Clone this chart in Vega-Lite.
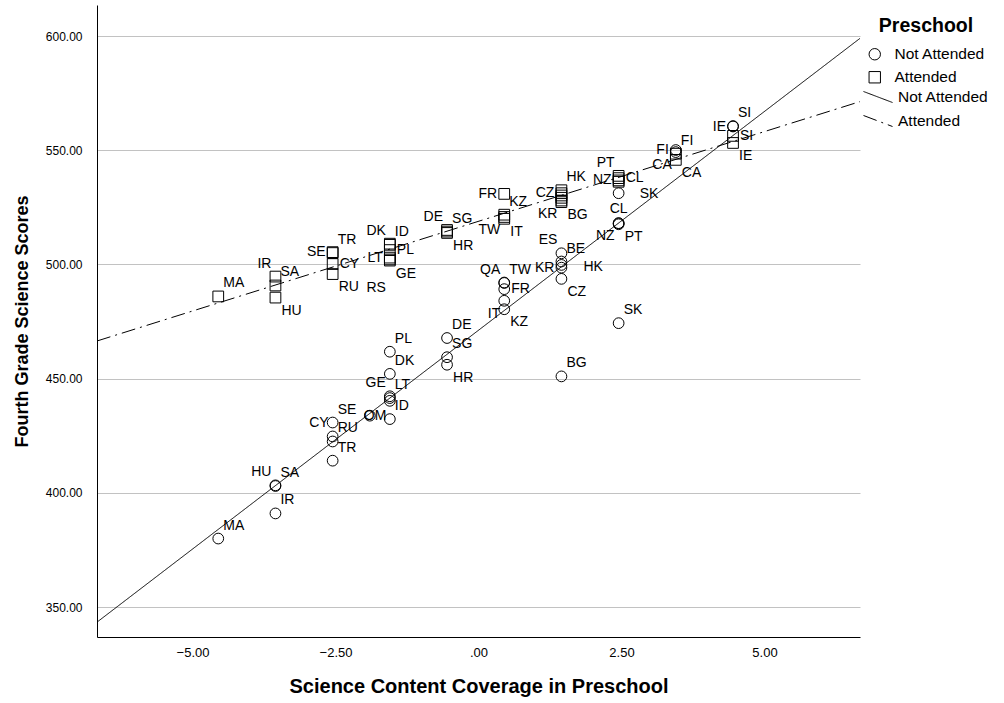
{
  "$schema": "https://vega.github.io/schema/vega-lite/v6.json",
  "width": 763,
  "height": 632,
  "autosize": {"type": "none"},
  "padding": {"left": 97, "top": 5, "right": 144, "bottom": 66},
  "background": "white",
  "config": {
    "view": {"stroke": null},
    "font": "Liberation Sans",
    "axis": {
      "domainColor": "black",
      "domainWidth": 1,
      "ticks": false,
      "labelFont": "Liberation Sans",
      "labelColor": "black",
      "titleFont": "Liberation Sans",
      "titleFontWeight": "bold",
      "titleColor": "black"
    },
    "legend": {
      "labelFont": "Liberation Sans",
      "titleFont": "Liberation Sans",
      "labelColor": "black",
      "titleColor": "black"
    }
  },
  "datasets": {
    "points": [
      {"Country": "MA", "Preschool": "Attended", "x": -4.55, "y": 486.0},
      {"Country": "IR", "Preschool": "Attended", "x": -3.55, "y": 494.7},
      {"Country": "SA", "Preschool": "Attended", "x": -3.55, "y": 490.8},
      {"Country": "HU", "Preschool": "Attended", "x": -3.55, "y": 485.5},
      {"Country": "SE", "Preschool": "Attended", "x": -2.55, "y": 505.4},
      {"Country": "TR", "Preschool": "Attended", "x": -2.55, "y": 505.0},
      {"Country": "CY", "Preschool": "Attended", "x": -2.55, "y": 500.2},
      {"Country": "RU", "Preschool": "Attended", "x": -2.55, "y": 495.8},
      {"Country": "DK", "Preschool": "Attended", "x": -1.55, "y": 509.1},
      {"Country": "ID", "Preschool": "Attended", "x": -1.55, "y": 508.6},
      {"Country": "PL", "Preschool": "Attended", "x": -1.55, "y": 506.3},
      {"Country": "LT", "Preschool": "Attended", "x": -1.55, "y": 503.0},
      {"Country": "GE", "Preschool": "Attended", "x": -1.55, "y": 501.7},
      {"Country": "RS", "Preschool": "Attended", "x": -1.55, "y": 502.2},
      {"Country": "DE", "Preschool": "Attended", "x": -0.55, "y": 515.1},
      {"Country": "SG", "Preschool": "Attended", "x": -0.55, "y": 514.4},
      {"Country": "HR", "Preschool": "Attended", "x": -0.55, "y": 513.8},
      {"Country": "FR", "Preschool": "Attended", "x": 0.45, "y": 530.9},
      {"Country": "KZ", "Preschool": "Attended", "x": 0.45, "y": 521.8},
      {"Country": "TW", "Preschool": "Attended", "x": 0.45, "y": 520.8},
      {"Country": "IT", "Preschool": "Attended", "x": 0.45, "y": 520.0},
      {"Country": "HK", "Preschool": "Attended", "x": 1.45, "y": 532.5},
      {"Country": "CZ", "Preschool": "Attended", "x": 1.45, "y": 531.2},
      {"Country": "ES", "Preschool": "Attended", "x": 1.45, "y": 530.2},
      {"Country": "BE", "Preschool": "Attended", "x": 1.45, "y": 529.2},
      {"Country": "KR", "Preschool": "Attended", "x": 1.45, "y": 528.0},
      {"Country": "BG", "Preschool": "Attended", "x": 1.45, "y": 527.3},
      {"Country": "PT", "Preschool": "Attended", "x": 2.45, "y": 538.8},
      {"Country": "CL", "Preschool": "Attended", "x": 2.45, "y": 537.8},
      {"Country": "NZ", "Preschool": "Attended", "x": 2.45, "y": 536.8},
      {"Country": "SK", "Preschool": "Attended", "x": 2.45, "y": 536.2},
      {"Country": "FI", "Preschool": "Attended", "x": 3.45, "y": 548.5},
      {"Country": "CA", "Preschool": "Attended", "x": 3.45, "y": 545.8},
      {"Country": "SI", "Preschool": "Attended", "x": 4.45, "y": 556.3},
      {"Country": "IE", "Preschool": "Attended", "x": 4.45, "y": 553.2},
      {"Country": "MA", "Preschool": "Not Attended", "x": -4.55, "y": 380.0},
      {"Country": "IR", "Preschool": "Not Attended", "x": -3.55, "y": 391.0},
      {"Country": "HU", "Preschool": "Not Attended", "x": -3.55, "y": 403.3},
      {"Country": "SA", "Preschool": "Not Attended", "x": -3.55, "y": 403.0},
      {"Country": "SE", "Preschool": "Not Attended", "x": -2.55, "y": 430.8},
      {"Country": "CY", "Preschool": "Not Attended", "x": -2.55, "y": 424.7},
      {"Country": "RU", "Preschool": "Not Attended", "x": -2.55, "y": 422.5},
      {"Country": "TR", "Preschool": "Not Attended", "x": -2.55, "y": 414.1},
      {"Country": "OM", "Preschool": "Not Attended", "x": -1.9, "y": 433.8},
      {"Country": "PL", "Preschool": "Not Attended", "x": -1.55, "y": 461.8},
      {"Country": "DK", "Preschool": "Not Attended", "x": -1.55, "y": 452.1},
      {"Country": "GE", "Preschool": "Not Attended", "x": -1.55, "y": 442.3},
      {"Country": "LT", "Preschool": "Not Attended", "x": -1.55, "y": 441.5},
      {"Country": "RS", "Preschool": "Not Attended", "x": -1.55, "y": 440.3},
      {"Country": "ID", "Preschool": "Not Attended", "x": -1.55, "y": 432.3},
      {"Country": "DE", "Preschool": "Not Attended", "x": -0.55, "y": 467.8},
      {"Country": "SG", "Preschool": "Not Attended", "x": -0.55, "y": 459.4},
      {"Country": "HR", "Preschool": "Not Attended", "x": -0.55, "y": 456.1},
      {"Country": "QA", "Preschool": "Not Attended", "x": 0.45, "y": 492.1},
      {"Country": "TW", "Preschool": "Not Attended", "x": 0.45, "y": 491.9},
      {"Country": "FR", "Preschool": "Not Attended", "x": 0.45, "y": 489.2},
      {"Country": "IT", "Preschool": "Not Attended", "x": 0.45, "y": 484.1},
      {"Country": "KZ", "Preschool": "Not Attended", "x": 0.45, "y": 480.4},
      {"Country": "ES", "Preschool": "Not Attended", "x": 1.45, "y": 504.9},
      {"Country": "BE", "Preschool": "Not Attended", "x": 1.45, "y": 501.3},
      {"Country": "HK", "Preschool": "Not Attended", "x": 1.45, "y": 499.8},
      {"Country": "KR", "Preschool": "Not Attended", "x": 1.45, "y": 498.6},
      {"Country": "CZ", "Preschool": "Not Attended", "x": 1.45, "y": 493.7},
      {"Country": "BG", "Preschool": "Not Attended", "x": 1.45, "y": 451.0},
      {"Country": "CL", "Preschool": "Not Attended", "x": 2.45, "y": 518.1},
      {"Country": "NZ", "Preschool": "Not Attended", "x": 2.45, "y": 518.0},
      {"Country": "PT", "Preschool": "Not Attended", "x": 2.45, "y": 517.6},
      {"Country": "SK", "Preschool": "Not Attended", "x": 2.45, "y": 474.3},
      {"Country": null, "Preschool": "Not Attended", "x": 2.45, "y": 531.2},
      {"Country": "FI", "Preschool": "Not Attended", "x": 3.45, "y": 550.1},
      {"Country": "CA", "Preschool": "Not Attended", "x": 3.45, "y": 549.2},
      {"Country": "SI", "Preschool": "Not Attended", "x": 4.45, "y": 560.6},
      {"Country": "IE", "Preschool": "Not Attended", "x": 4.45, "y": 560.4}
    ],
    "fits": [
      {"Fit": "Not Attended fit", "x": -6.67, "y": 343.4},
      {"Fit": "Not Attended fit", "x": 6.67, "y": 599.0},
      {"Fit": "Attended fit", "x": -6.67, "y": 466.5},
      {"Fit": "Attended fit", "x": 6.67, "y": 571.3}
    ]
  },
  "encoding": {
    "x": {
      "field": "x",
      "type": "quantitative",
      "scale": {"domain": [-6.67, 6.67], "nice": false, "zero": false},
      "axis": {
        "title": "Science Content Coverage in Preschool",
        "values": [-5, -2.5, 0, 2.5, 5],
        "labelExpr": "datum.value == 0 ? '.00' : format(datum.value, '.2f')",
        "grid": false,
        "labelFontSize": 13,
        "labelPadding": 9,
        "titleFontSize": 20,
        "titlePadding": 17
      }
    },
    "y": {
      "field": "y",
      "type": "quantitative",
      "scale": {"domain": [336.9, 613.6], "nice": false, "zero": false},
      "axis": {
        "title": "Fourth Grade Science Scores",
        "values": [350, 400, 450, 500, 550, 600],
        "format": ".2f",
        "grid": true,
        "gridColor": "#c2c2c2",
        "gridWidth": 1,
        "labelFontSize": 12,
        "labelPadding": 15,
        "titleFontSize": 18,
        "titlePadding": 14
      }
    }
  },
  "layer": [
    {
      "data": {"name": "fits"},
      "mark": {"type": "line", "color": "black", "strokeWidth": 1},
      "encoding": {
        "strokeDash": {
          "field": "Fit",
          "type": "nominal",
          "scale": {"domain": ["Not Attended fit", "Attended fit"], "range": [[1, 0], [14, 5, 2, 5]]},
          "legend": {
            "title": null,
            "orient": "none",
            "legendX": 766,
            "legendY": 77,
            "labelExpr": "replace(datum.label, ' fit', '')",
            "symbolType": "M -1 -0.38 L 1 0.38",
            "symbolSize": 841,
            "symbolStrokeWidth": 1,
            "symbolStrokeColor": "black",
            "labelFontSize": 15.5,
            "labelOffset": 5,
            "rowPadding": -13,
            "padding": 0
          }
        }
      }
    },
    {
      "data": {"name": "points"},
      "mark": {"type": "point", "filled": false, "color": "black", "strokeWidth": 1, "opacity": 1, "size": 115},
      "encoding": {
        "shape": {
          "field": "Preschool",
          "type": "nominal",
          "scale": {"domain": ["Not Attended", "Attended"], "range": ["circle", "square"]},
          "legend": {
            "title": "Preschool",
            "orient": "none",
            "legendX": 770,
            "legendY": 12,
            "titleFontSize": 19.5,
            "titleFontWeight": "bold",
            "titleAnchor": "middle",
            "titlePadding": 10,
            "labelFontSize": 15.5,
            "labelOffset": 12,
            "rowPadding": 6,
            "symbolSize": 130,
            "symbolStrokeWidth": 1,
            "symbolStrokeColor": "black",
            "symbolFillColor": "transparent",
            "padding": 0
          }
        }
      }
    },
    {
      "data": {"name": "points"},
      "transform": [{"filter": "indexof(['A:MA','A:SA','A:TR','A:ID','A:SG','A:KZ','A:HK','A:FI','N:MA','N:IR','N:SA','N:SE','N:RU','N:TR','N:PL','N:DK','N:LT','N:ID','N:DE','N:SG','N:TW','N:BE','N:BG','N:SK','N:SI'], (datum.Preschool == 'Attended' ? 'A:' : 'N:') + datum.Country) >= 0"}],
      "mark": {"type": "text", "align": "left", "baseline": "middle", "dx": 5, "dy": -13, "fontSize": 14, "color": "black"},
      "encoding": {"text": {"field": "Country"}}
    },
    {
      "data": {"name": "points"},
      "transform": [{"filter": "indexof(['A:IR','A:DK','A:DE','A:PT','N:HU','N:CY','N:GE','N:QA','N:ES'], (datum.Preschool == 'Attended' ? 'A:' : 'N:') + datum.Country) >= 0"}],
      "mark": {"type": "text", "align": "right", "baseline": "middle", "dx": -4, "dy": -13, "fontSize": 14, "color": "black"},
      "encoding": {"text": {"field": "Country"}}
    },
    {
      "data": {"name": "points"},
      "transform": [{"filter": "indexof(['A:SE','A:LT','A:FR','A:CZ','A:NZ','N:KR','N:FI','N:IE'], (datum.Preschool == 'Attended' ? 'A:' : 'N:') + datum.Country) >= 0"}],
      "mark": {"type": "text", "align": "right", "baseline": "middle", "dx": -7, "dy": 0, "fontSize": 14, "color": "black"},
      "encoding": {"text": {"field": "Country"}}
    },
    {
      "data": {"name": "points"},
      "transform": [{"filter": "indexof(['A:CY','A:PL','A:CL','A:SI','N:FR'], (datum.Preschool == 'Attended' ? 'A:' : 'N:') + datum.Country) >= 0"}],
      "mark": {"type": "text", "align": "left", "baseline": "middle", "dx": 7, "dy": 0, "fontSize": 14, "color": "black"},
      "encoding": {"text": {"field": "Country"}}
    },
    {
      "data": {"name": "points"},
      "transform": [{"filter": "indexof(['N:HK'], (datum.Preschool == 'Attended' ? 'A:' : 'N:') + datum.Country) >= 0"}],
      "mark": {"type": "text", "align": "left", "baseline": "middle", "dx": 22, "dy": 2, "fontSize": 14, "color": "black"},
      "encoding": {"text": {"field": "Country"}}
    },
    {
      "data": {"name": "points"},
      "transform": [{"filter": "indexof(['A:SK'], (datum.Preschool == 'Attended' ? 'A:' : 'N:') + datum.Country) >= 0"}],
      "mark": {"type": "text", "align": "left", "baseline": "middle", "dx": 21, "dy": 12, "fontSize": 14, "color": "black"},
      "encoding": {"text": {"field": "Country"}}
    },
    {
      "data": {"name": "points"},
      "transform": [{"filter": "indexof(['A:HU','A:RU','A:GE','A:HR','A:IT','A:BG','A:CA','A:IE','N:HR','N:KZ','N:PT','N:CZ'], (datum.Preschool == 'Attended' ? 'A:' : 'N:') + datum.Country) >= 0"}],
      "mark": {"type": "text", "align": "left", "baseline": "middle", "dx": 6, "dy": 13, "fontSize": 14, "color": "black"},
      "encoding": {"text": {"field": "Country"}}
    },
    {
      "data": {"name": "points"},
      "transform": [{"filter": "indexof(['A:TW','A:KR','N:IT','N:NZ','N:CA'], (datum.Preschool == 'Attended' ? 'A:' : 'N:') + datum.Country) >= 0"}],
      "mark": {"type": "text", "align": "right", "baseline": "middle", "dx": -4, "dy": 13, "fontSize": 14, "color": "black"},
      "encoding": {"text": {"field": "Country"}}
    },
    {
      "data": {"name": "points"},
      "transform": [{"filter": "indexof(['N:CL'], (datum.Preschool == 'Attended' ? 'A:' : 'N:') + datum.Country) >= 0"}],
      "mark": {"type": "text", "align": "center", "baseline": "middle", "dx": 0, "dy": -14, "fontSize": 14, "color": "black"},
      "encoding": {"text": {"field": "Country"}}
    },
    {
      "data": {"name": "points"},
      "transform": [{"filter": "indexof(['N:OM'], (datum.Preschool == 'Attended' ? 'A:' : 'N:') + datum.Country) >= 0"}],
      "mark": {"type": "text", "align": "left", "baseline": "middle", "dx": -6, "dy": 0, "fontSize": 14, "color": "black"},
      "encoding": {"text": {"field": "Country"}}
    },
    {
      "data": {"name": "points"},
      "transform": [{"filter": "indexof(['A:RS'], (datum.Preschool == 'Attended' ? 'A:' : 'N:') + datum.Country) >= 0"}],
      "mark": {"type": "text", "align": "right", "baseline": "middle", "dx": -4, "dy": 29, "fontSize": 14, "color": "black"},
      "encoding": {"text": {"field": "Country"}}
    }
  ]
}
